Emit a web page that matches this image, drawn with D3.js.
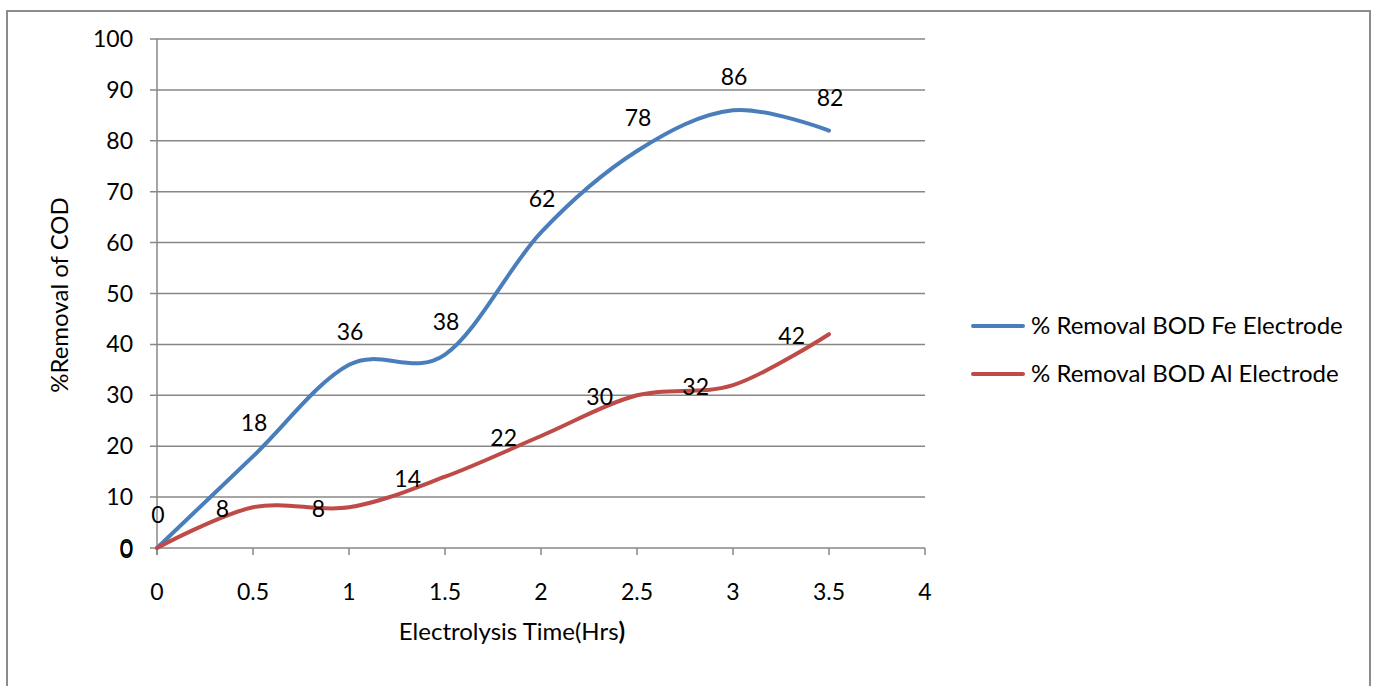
<!DOCTYPE html>
<html><head><meta charset="utf-8">
<script src="https://cdn.jsdelivr.net/npm/d3@7/dist/d3.min.js"></script>
<style>body{margin:0;background:#fff}text{font-family:Lato,"Open Sans",sans-serif;fill:#000}</style>
</head><body>
<svg id="c" width="1374" height="686"></svg>
<script>
const times = [0, 0.5, 1, 1.5, 2, 2.5, 3, 3.5];
const feValues = [0, 18, 36, 38, 62, 78, 86, 82];
const alValues = [0, 8, 8, 14, 22, 30, 32, 42];
const seriesNames = ["% Removal BOD Fe Electrode", "% Removal BOD Al Electrode"];
const yTicks = [0, 10, 20, 30, 40, 50, 60, 70, 80, 90, 100];
const xTicks = [0, 0.5, 1, 1.5, 2, 2.5, 3, 3.5, 4];
const xTitle = "Electrolysis Time(Hrs";
const yTitle = "%Removal of COD";

const svg = d3.select("#c");
const fs = 23;   // numbers
const fsT = 24;  // titles / legend
const grid = "#878787";
svg.append("rect").attr("x",7).attr("y",11).attr("width",1363).attr("height",720)
  .attr("fill","none").attr("stroke","#8c8c8c").attr("stroke-width",2);

const x = d3.scaleLinear().domain([0,4]).range([157,925]);
const y = d3.scaleLinear().domain([0,100]).range([548,39]);

svg.append("g").selectAll("line").data(yTicks).join("line")
  .attr("x1",150).attr("x2",925).attr("y1",d=>y(d)).attr("y2",d=>y(d))
  .attr("stroke",grid).attr("stroke-width",1.5);
svg.append("line").attr("x1",x(0)).attr("x2",x(0)).attr("y1",y(100)).attr("y2",y(0)+7)
  .attr("stroke",grid).attr("stroke-width",1.5);
svg.append("g").selectAll("line").data(xTicks).join("line")
  .attr("x1",d=>x(d)).attr("x2",d=>x(d)).attr("y1",y(0)).attr("y2",y(0)+7)
  .attr("stroke",grid).attr("stroke-width",1.5);

svg.append("g").selectAll("text").data(yTicks).join("text")
  .attr("x",133).attr("y",d=>y(d)).attr("dy","0.35em").attr("text-anchor","end")
  .attr("font-size",fs).text(d=>d);
svg.append("g").selectAll("text").data(xTicks).join("text")
  .attr("x",d=>x(d)).attr("y",592).attr("dy","0.35em").attr("text-anchor","middle")
  .attr("font-size",fs).text(d=>d);

const xt = svg.append("text").attr("x",512).attr("y",632).attr("dy","0.35em")
  .attr("text-anchor","middle").attr("font-size",fsT);
xt.append("tspan").text(xTitle);
xt.append("tspan").attr("font-weight","bold").text(")");
svg.append("text").attr("transform","translate(60,295) rotate(-90)").attr("dy","0.35em")
  .attr("text-anchor","middle").attr("font-size",fsT).text(yTitle);

const colors = ["#4A7EBB","#BE4B48"];
const line = d3.line().x((d,i)=>x(times[i])).y(d=>y(d)).curve(d3.curveCardinal.tension(0));
[feValues, alValues].forEach((vals,k)=>{
  svg.append("path").attr("d",line(vals)).attr("fill","none").attr("stroke",colors[k])
    .attr("stroke-width",4).attr("stroke-linecap","round").attr("stroke-linejoin","round");
});
svg.append("g").selectAll("text").data(feValues).join("text")
  .attr("x",(d,i)=>x(times[i])+1).attr("y",d=>y(d)-33).attr("dy","0.35em")
  .attr("text-anchor","middle").attr("font-size",fs).text(d=>d);
svg.append("g").selectAll("text").data(alValues).join("text")
  .attr("x",(d,i)=>x(times[i])-24).attr("y",d=>y(d)+2).attr("dy","0.35em")
  .attr("text-anchor","end").attr("font-size",fs).text(d=>d);

seriesNames.forEach((n,k)=>{
  const ly = 326 + k*48;
  svg.append("line").attr("x1",973).attr("x2",1023).attr("y1",ly).attr("y2",ly)
    .attr("stroke",colors[k]).attr("stroke-width",4).attr("stroke-linecap","round");
  svg.append("text").attr("x",1031).attr("y",ly).attr("dy","0.35em").attr("font-size",fsT).text(n);
});
</script>
</body></html>
